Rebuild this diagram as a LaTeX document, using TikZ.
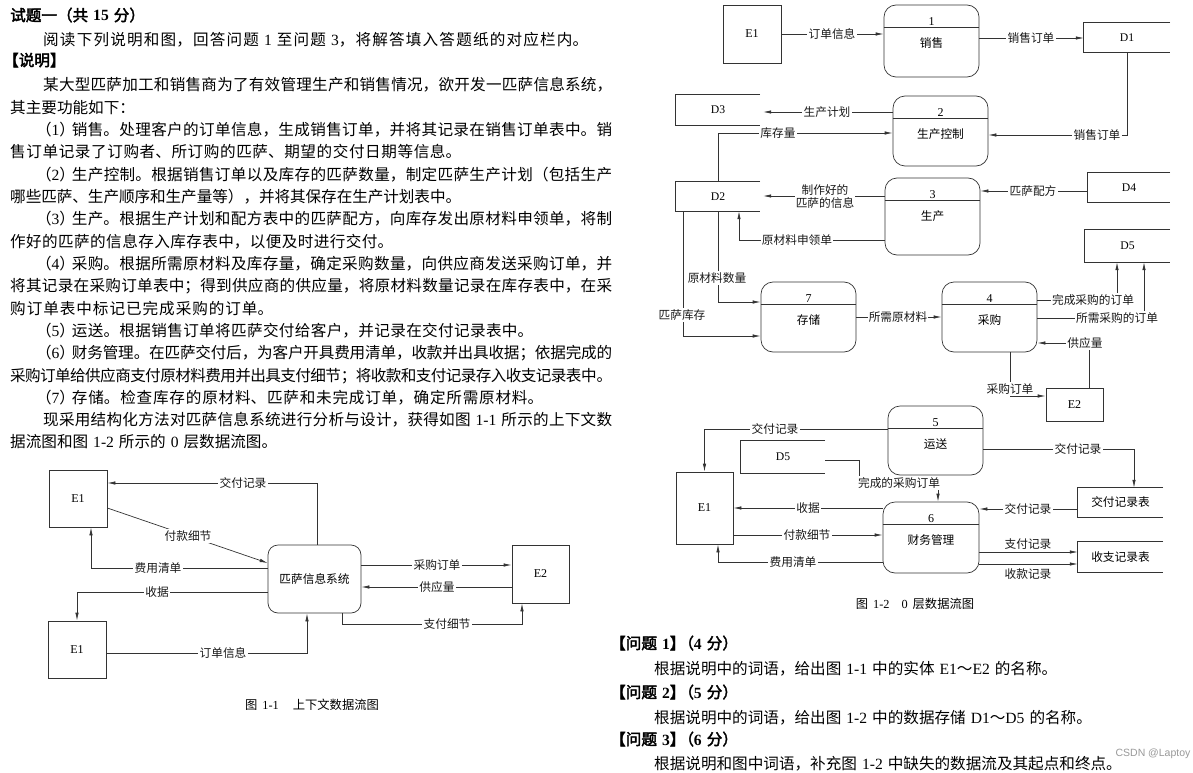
\documentclass[tikz,border=0pt]{standalone}
\usepackage{fontspec}
\setmainfont{Noto Sans CJK SC}[AutoFakeBold=2.5]
\newfontfamily\lat{Liberation Serif}
\newfontfamily\wmfont{Liberation Sans}
\usetikzlibrary{arrows.meta}
\XeTeXlinebreaklocale "zh"
\XeTeXlinebreakskip=0pt plus 3pt minus 0.6pt
\newcommand\bodyfont{\fontsize{15.6}{22}\selectfont}
\newcommand\dfont{\fontsize{11.7}{13.5}\selectfont}
\newcommand\latd{\lat\fontsize{12}{14}\selectfont}
\newcommand\cjsp{\hspace{5pt}}
\newcommand\parenum[1]{\makebox[0.8em][r]{（}{\lat #1}\makebox[0.8em][l]{）}}
\newcommand\jlinew[4]{\node[anchor=base west,inner sep=0,font=\bodyfont] (#1) at (10,#2) {\parbox[b]{#3pt}{\tolerance=10000\parfillskip=0pt\relax #4}};}
\newcommand\jline[3]{\jlinew{#1}{#2}{602}{#3}}
\newcommand\pline[4]{\node[anchor=base west,inner sep=0,font=\bodyfont] (#1) at (#2,#3) {#4};}
\newcommand\procnode[7]{%
  \node[procbox,minimum width=#4pt,minimum height=#5pt] (#1) at (#2,#3) {};
  \draw[ln] ([yshift=-23pt]#1.north west) -- ([yshift=-23pt]#1.north east);
  \node[font=\latd,inner sep=0] (#1n) at ([yshift=-16.5pt]#1.north) {#6};
  \node[font=\dfont,inner sep=0] (#1l) at ([yshift=-38.5pt]#1.north) {#7};}
\newcommand\storenode[6]{%
  \node[storebox,minimum width=#4pt,minimum height=#5pt] (#1) at (#2,#3) {#6};
  \draw[ln] (#1.north east) -- (#1.north west) -- (#1.south west) -- (#1.south east);}
\begin{document}
\begin{tikzpicture}[x=1pt,y=-1pt,
  ln/.style={draw=black!80,line width=0.7pt},
  arr/.style={ln,-{Latex[length=8pt,width=3.4pt]}},
  lab/.style={fill=white,inner sep=1.2pt,font=\dfont,text=black!90},
  plainlab/.style={inner sep=1pt,font=\dfont,text=black!90},
  entbox/.style={draw=black!80,line width=0.7pt,inner sep=0,font=\latd},
  sysbox/.style={draw=black!80,line width=0.7pt,rounded corners=10pt,inner sep=0,font=\dfont},
  procbox/.style={draw=black!80,line width=0.7pt,rounded corners=12pt,inner sep=0},
  storebox/.style={inner sep=0,font=\dfont},
  capstyle/.style={inner sep=0,font=\fontsize{12.3}{14}\selectfont}]
\useasboundingbox (0,0) rectangle (1193,773);
\fill[white] (0,0) rectangle (1193,773);

% ---------------- left text ----------------
\pline{t1}{10}{21}{\bfseries 试题一（共\cjsp{}{\lat 15}\cjsp{}分）}
\jlinew{t2}{46}{578}{\hspace*{33pt}阅读下列说明和图，回答问题\cjsp{}{\lat 1}\cjsp{}至问题\cjsp{}{\lat 3}，将解答填入答题纸的对应栏内。}
\pline{t3}{3}{66}{\bfseries 【说明】}
\jline{t4}{91}{\hspace*{33pt}某大型匹萨加工和销售商为了有效管理生产和销售情况，欲开发一匹萨信息系统，}
\pline{t5}{10}{113.3}{其主要功能如下：}
\jline{t6}{135.6}{\hspace*{29pt}\parenum{1}销售。处理客户的订单信息，生成销售订单，并将其记录在销售订单表中。销}
\jlinew{t7}{157.9}{451}{售订单记录了订购者、所订购的匹萨、期望的交付日期等信息。}
\jline{t8}{180.2}{\hspace*{29pt}\parenum{2}生产控制。根据销售订单以及库存的匹萨数量，制定匹萨生产计划（包括生产}
\jlinew{t9}{202.5}{451}{哪些匹萨、生产顺序和生产量等），并将其保存在生产计划表中。}
\jline{t10}{224.9}{\hspace*{29pt}\parenum{3}生产。根据生产计划和配方表中的匹萨配方，向库存发出原材料申领单，将制}
\jlinew{t11}{247.2}{383}{作好的匹萨的信息存入库存表中，以便及时进行交付。}
\jline{t12}{269.5}{\hspace*{29pt}\parenum{4}采购。根据所需原材料及库存量，确定采购数量，向供应商发送采购订单，并}
\jline{t13}{291.8}{将其记录在采购订单表中；得到供应商的供应量，将原材料数量记录在库存表中，在采}
\jlinew{t14}{314.1}{263}{购订单表中标记已完成采购的订单。}
\jlinew{t15}{336.4}{523}{\hspace*{29pt}\parenum{5}运送。根据销售订单将匹萨交付给客户，并记录在交付记录表中。}
\jline{t16}{358.7}{\hspace*{29pt}\parenum{6}财务管理。在匹萨交付后，为客户开具费用清单，收款并出具收据；依据完成的}
\jline{t17}{381.0}{采购订单给供应商支付原材料费用并出具支付细节；将收款和支付记录存入收支记录表中。}
\jlinew{t18}{403.3}{533}{\hspace*{29pt}\parenum{7}存储。检查库存的原材料、匹萨和未完成订单，确定所需原材料。}
\jline{t19}{425.6}{\hspace*{33pt}现采用结构化方法对匹萨信息系统进行分析与设计，获得如图\cjsp{}{\lat 1-1}\cjsp{}所示的上下文数}
\pline{t20}{10}{447.9}{据流图和图\cjsp{}{\lat 1-2}\cjsp{}所示的\cjsp{}{\lat 0}\cjsp{}层数据流图。}

% ---------------- questions ----------------
\pline{q1}{610}{649}{\bfseries 【问题\cjsp{}{\lat 1}】\makebox[0.55em][r]{（}{\lat 4}\cjsp{}分）}
\pline{q1t}{654}{674}{根据说明中的词语，给出图\cjsp{}{\lat 1-1}\cjsp{}中的实体\cjsp{}{\lat E1}～{\lat E2}\cjsp{}的名称。}
\pline{q2}{610}{698}{\bfseries 【问题\cjsp{}{\lat 2}】\makebox[0.55em][r]{（}{\lat 5}\cjsp{}分）}
\pline{q2t}{654}{723}{根据说明中的词语，给出图\cjsp{}{\lat 1-2}\cjsp{}中的数据存储\cjsp{}{\lat D1}～{\lat D5}\cjsp{}的名称。}
\pline{q3}{610}{745}{\bfseries 【问题\cjsp{}{\lat 3}】\makebox[0.55em][r]{（}{\lat 6}\cjsp{}分）}
\pline{q3t}{654}{769}{根据说明和图中词语，补充图\cjsp{}{\lat 1-2}\cjsp{}中缺失的数据流及其起点和终点。}
\node[font=\wmfont\fontsize{10.5}{12}\selectfont,text=black!40,inner sep=0] (wm) at (1153,754) {CSDN @Laptoy};

% ---------------- Figure 1-1 ----------------
\node[entbox,minimum width=58pt,minimum height=57pt] (e1a) at (78,498.5) {E1};
\node[entbox,minimum width=58pt,minimum height=57pt] (e1b) at (77,649.5) {E1};
\node[sysbox,minimum width=93pt,minimum height=68pt] (sys) at (314.5,579) {匹萨信息系统};
\node[entbox,minimum width=57pt,minimum height=58pt] (e2) at (540.5,574) {E2};

\draw[arr] (sys.north -| 317,0) |- (e1a.east |- 0,483);
\draw[arr] (e1a.east |- 0,508) -- (sys.west |- 0,563);
\draw[arr] (sys.west |- 0,568) -| (e1a.south -| 91,0);
\draw[arr] (sys.west |- 0,592) -| (e1b.north -| 77,0);
\draw[arr] (e1b.east |- 0,653) -| (sys.south -| 307,0);
\draw[arr] (sys.east |- 0,565) -- (e2.west |- 0,565);
\draw[arr] (e2.west |- 0,587) -- (sys.east |- 0,587);
\draw[arr] (sys.south -| 342,0) -- (342,624) -| (e2.south -| 522,0);
\node[lab] (a1) at (243,483) {交付记录};
\node[lab] (a2) at (188,536) {付款细节};
\node[lab] (a3) at (158,568) {费用清单};
\node[lab] (a4) at (157,592) {收据};
\node[lab] (a5) at (223,653) {订单信息};
\node[lab] (a6) at (437,565) {采购订单};
\node[lab] (a7) at (437,587) {供应量};
\node[lab] (a8) at (447,624) {支付细节};
\node[capstyle] (cap1) at (312,705) {图\cjsp{}{\lat 1-1}\hspace{14pt}上下文数据流图};

% ---------------- Figure 1-2 ----------------
\node[entbox,minimum width=58pt,minimum height=58pt] (fe1) at (752,34) {E1};
\procnode{p1}{931.5}{41}{95}{72}{1}{销售}
\storenode{d1}{1127}{37.5}{86}{29}{{\lat D1}}
\procnode{p2}{940.5}{131}{95}{70}{2}{生产控制}
\storenode{d3}{718}{110}{84}{30}{{\lat D3}}
\storenode{d2}{718}{196.5}{84}{29}{{\lat D2}}
\procnode{p3}{932.5}{216.5}{95}{77}{3}{生产}
\storenode{d4}{1129}{187.5}{82}{29}{{\lat D4}}
\storenode{d5a}{1127.5}{246}{85}{32}{{\lat D5}}
\procnode{p7}{808.5}{317}{95}{70}{7}{存储}
\procnode{p4}{989.5}{317}{95}{70}{4}{采购}
\node[entbox,minimum width=57pt,minimum height=33pt] (fe2) at (1074.5,404.5) {E2};
\procnode{p5}{935.5}{440.5}{95}{69}{5}{运送}
\storenode{d5b}{783}{457}{84}{32}{{\lat D5}}
\storenode{tb1}{1120.5}{502.5}{85}{29}{交付记录表}
\node[entbox,minimum width=57pt,minimum height=72pt] (fe1b) at (704.5,508) {E1};
\procnode{p6}{931}{537.5}{96}{71}{6}{财务管理}
\storenode{tb2}{1120.5}{557}{85}{30}{收支记录表}

\draw[arr] (fe1.east) -- (p1.west |- fe1.east);
\draw[arr] (p1.east |- 0,38) -- (d1.west |- 0,38);
\draw[arr] (d1.south) |- (p2.east |- 0,135);
\draw[arr,shorten >=3pt] (p2.west |- 0,112) -- (d3.east |- 0,112);
\draw[arr] (d2.north) |- (p2.west |- 0,133);
\draw[arr,shorten >=3pt] (p3.west |- 0,196) -- (d2.east |- 0,196);
\draw[arr] (d4.west |- 0,191) -- (p3.east |- 0,191);
\draw[arr] (p3.west |- 0,240) -| (d2.south -| 739,0);
\draw[arr] (d2.south) |- (p7.west |- 0,302);
\draw[arr] (d2.south -| 683,0) |- (p7.west |- 0,336);
\draw[arr] (p7.east) -- (p4.west);
\draw[arr] (p4.east |- 0,300) -| (d5a.south -| 1117,0);
\draw[arr] (p4.east |- 0,318) -| (d5a.south -| 1144,0);
\draw[arr] (fe2.north -| 1089,0) |- (p4.east |- 0,343);
\draw[arr] (p4.south -| 1010,0) |- (fe2.west |- 0,396);
\draw[arr] (p5.west |- 0,429) -| (fe1b.north);
\draw[arr] (d5b.east |- 0,460) -- (859,460) -- (859,483) -- (938,483) -- (p6.north -| 938,0);
\draw[arr] (p5.east |- 0,449) -| (tb1.north -| 1134,0);
\draw[arr] (tb1.west |- 0,509) -- (p6.east |- 0,509);
\draw[arr] (p6.west |- 0,508) -- (fe1b.east |- 0,508);
\draw[arr] (fe1b.east |- 0,535) -- (p6.west |- 0,535);
\draw[arr] (p6.west |- 0,562) -| (fe1b.south -| 718,0);
\draw[arr] (p6.east |- 0,552) -- (tb2.west |- 0,552);
\draw[arr] (p6.east |- 0,564) -- (tb2.west |- 0,564);

\node[lab] (b1) at (832,34) {订单信息};
\node[lab] (b2) at (1031,38) {销售订单};
\node[lab] (b3) at (1097,135) {销售订单};
\node[lab] (b4) at (827,112) {生产计划};
\node[lab] (b5) at (778,133) {库存量};
\node[lab,align=center] (b6) at (825,196.5) {制作好的\\匹萨的信息};
\node[lab] (b7) at (1033,191) {匹萨配方};
\node[lab] (b8) at (797,240) {原材料申领单};
\node[lab] (b9) at (717,278) {原材料数量};
\node[lab] (b10) at (682,315) {匹萨库存};
\node[lab] (b11) at (898,317) {所需原材料};
\node[lab] (b12) at (1093,300) {完成采购的订单};
\node[lab] (b13) at (1117,318) {所需采购的订单};
\node[lab] (b14) at (1085,343) {供应量};
\node[lab] (b15) at (1010,389) {采购订单};
\node[lab] (b16) at (775,429) {交付记录};
\node[lab] (b17) at (899,483) {完成的采购订单};
\node[lab] (b18) at (1078,449) {交付记录};
\node[lab] (b19) at (1028,509) {交付记录};
\node[lab] (b20) at (808,508) {收据};
\node[lab] (b21) at (807,535) {付款细节};
\node[lab] (b22) at (793,562) {费用清单};
\node[plainlab] (b23) at (1028,544) {支付记录};
\node[plainlab] (b24) at (1028,574) {收款记录};
\node[capstyle] (cap2) at (915,604) {图\cjsp{}{\lat 1-2}\hspace{12pt}{\lat 0}\cjsp{}层数据流图};
\end{tikzpicture}
\end{document}
